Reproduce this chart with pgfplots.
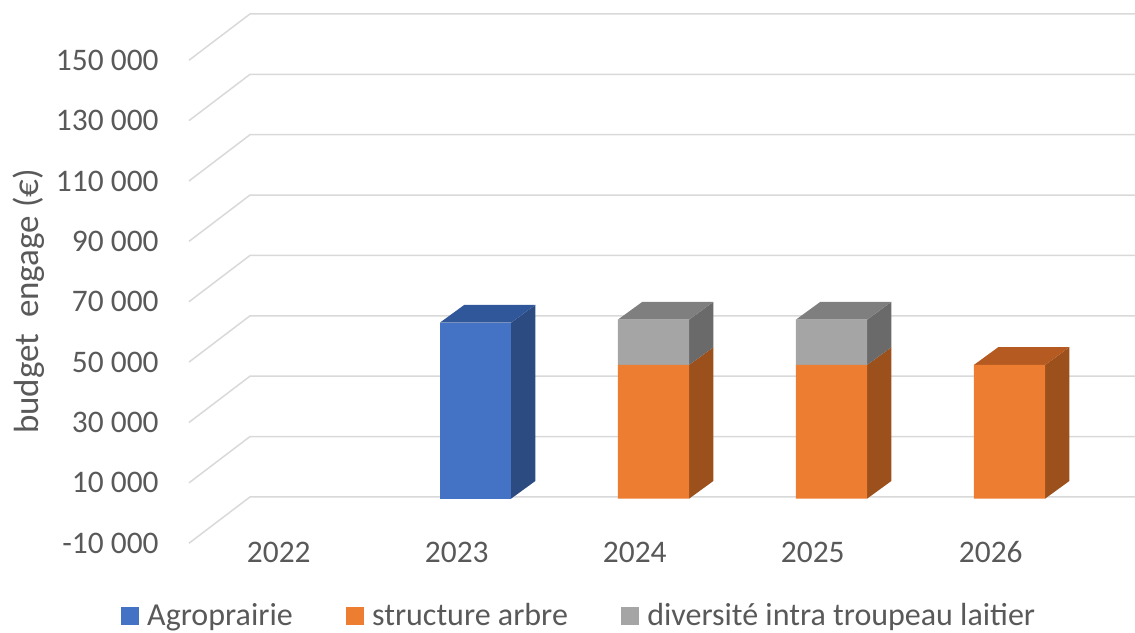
\documentclass[border=0pt]{standalone}
\usepackage{fontspec}
\setmainfont{Carlito}
\usepackage{pgfplots}
\pgfplotsset{compat=1.18}
\definecolor{txt}{HTML}{595959}
\definecolor{gridc}{HTML}{D9D9D9}
\definecolor{bluef}{HTML}{4472C4}
\definecolor{blues}{HTML}{2C4B80}
\definecolor{bluet}{HTML}{30579A}
\definecolor{orangef}{HTML}{ED7D31}
\definecolor{oranges}{HTML}{9C501C}
\definecolor{oranget}{HTML}{B55B21}
\definecolor{grayf}{HTML}{A5A5A5}
\definecolor{grays}{HTML}{6A6A6A}
\definecolor{grayt}{HTML}{7F7F7F}
\newcommand\fs{\fontsize{15.7}{18.8}\selectfont}
\pgfplotsset{
  common/.style={scale only axis, width=477pt, height=264.65pt,
    xmin=-0.6096, xmax=4.75, ymin=-14773, ymax=160566, clip=false},
}
\begin{document}
\begin{tikzpicture}
% ---------- background: walls, depth faces, labels, legend ----------
\begin{axis}[common,
  axis line style={draw=none}, major tick length=0pt,
  xtick={-0.105,0.895,1.895,2.895,3.895},
  xticklabels={2022,2023,2024,2025,2026},
  ytick={-14773,5227,25227,45227,65227,85227,105227,125227,145227},
  yticklabels={{-10 000},{10 000},{30 000},{50 000},{70 000},{90 000},{110 000},{130 000},{150 000}},
  ticklabel style={font=\fs, text=txt},
  xticklabel style={anchor=base, yshift=-9.6pt, inner sep=0pt},
  yticklabel style={anchor=east, inner sep=0pt, xshift=-15pt},
  legend image code/.code={\fill[#1] (0pt,-4.5pt) rectangle (9pt,4.5pt);},
  legend style={at={(0.4078,-0.1374)}, anchor=center, draw=none, fill=none,
    legend columns=-1, font=\fontsize{16}{19}\selectfont, text=txt, inner sep=0pt,
    nodes={inner sep=0pt},
    /tikz/every odd column/.append style={column sep=4.2pt},
    /tikz/every even column/.append style={column sep=26.5pt}},
]
% gridlines (side wall diagonal + back wall)
\addplot[gridc, line width=0.75pt, forget plot] coordinates {(-0.6096,-14773) (-0.2669,566) (4.75,566)};
\addplot[gridc, line width=0.75pt, forget plot] coordinates {(-0.6096,5227) (-0.2669,20566) (4.75,20566)};
\addplot[gridc, line width=0.75pt, forget plot] coordinates {(-0.6096,25227) (-0.2669,40566) (4.75,40566)};
\addplot[gridc, line width=0.75pt, forget plot] coordinates {(-0.6096,45227) (-0.2669,60566) (4.75,60566)};
\addplot[gridc, line width=0.75pt, forget plot] coordinates {(-0.6096,65227) (-0.2669,80566) (4.75,80566)};
\addplot[gridc, line width=0.75pt, forget plot] coordinates {(-0.6096,85227) (-0.2669,100566) (4.75,100566)};
\addplot[gridc, line width=0.75pt, forget plot] coordinates {(-0.6096,105227) (-0.2669,120566) (4.75,120566)};
\addplot[gridc, line width=0.75pt, forget plot] coordinates {(-0.6096,125227) (-0.2669,140566) (4.75,140566)};
\addplot[gridc, line width=0.75pt, forget plot] coordinates {(-0.6096,145227) (-0.2669,160566) (4.75,160566)};
% 2023 Agroprairie 58300
\addplot[fill=blues, draw=none, forget plot] coordinates {(1.2,0) (1.3365,5863) (1.3365,64163) (1.2,58300)};
\addplot[fill=bluet, draw=none, forget plot] coordinates {(0.8,58300) (0.9365,64163) (1.3365,64163) (1.2,58300)};
% 2024 structure arbre 44300 + diversite 15000
\addplot[fill=oranges, draw=none, forget plot] coordinates {(2.2,0) (2.3365,5863) (2.3365,50163) (2.2,44300)};
\addplot[fill=grays, draw=none, forget plot] coordinates {(2.2,44300) (2.3365,50163) (2.3365,65163) (2.2,59300)};
\addplot[fill=grayt, draw=none, forget plot] coordinates {(1.8,59300) (1.9365,65163) (2.3365,65163) (2.2,59300)};
% 2025 structure arbre 44300 + diversite 15000
\addplot[fill=oranges, draw=none, forget plot] coordinates {(3.2,0) (3.3365,5863) (3.3365,50163) (3.2,44300)};
\addplot[fill=grays, draw=none, forget plot] coordinates {(3.2,44300) (3.3365,50163) (3.3365,65163) (3.2,59300)};
\addplot[fill=grayt, draw=none, forget plot] coordinates {(2.8,59300) (2.9365,65163) (3.3365,65163) (3.2,59300)};
% 2026 structure arbre 44300
\addplot[fill=oranges, draw=none, forget plot] coordinates {(4.2,0) (4.3365,5863) (4.3365,50163) (4.2,44300)};
\addplot[fill=oranget, draw=none, forget plot] coordinates {(3.8,44300) (3.9365,50163) (4.3365,50163) (4.2,44300)};
% legend
\addlegendimage{fill=bluef, draw=none}
\addlegendentry{Agroprairie}
\addlegendimage{fill=orangef, draw=none}
\addlegendentry{structure arbre}
\addlegendimage{fill=grayf, draw=none}
\addlegendentry{diversité intra troupeau laitier}
\node[rotate=90, font=\fontsize{17.5}{21}\selectfont, text=txt] at (axis cs:-1.5084,65320) {budget\ \ engage (€)};
\coordinate (bbBL) at (axis cs:-1.6713,-44485);
\coordinate (bbTR) at (axis cs:4.7051,165187);
\end{axis}
% ---------- front faces of the bars ----------
\begin{axis}[common, hide axis, ybar stacked, bar width=0.4]
\addplot[fill=bluef, draw=none] coordinates {(0,0) (1,58300) (2,0) (3,0) (4,0)};
\addplot[fill=orangef, draw=none] coordinates {(0,0) (1,0) (2,44300) (3,44300) (4,44300)};
\addplot[fill=grayf, draw=none] coordinates {(0,0) (1,0) (2,15000) (3,15000) (4,0)};
\end{axis}
\pgfresetboundingbox
\useasboundingbox (bbBL) rectangle (bbTR);
\end{tikzpicture}
\end{document}
